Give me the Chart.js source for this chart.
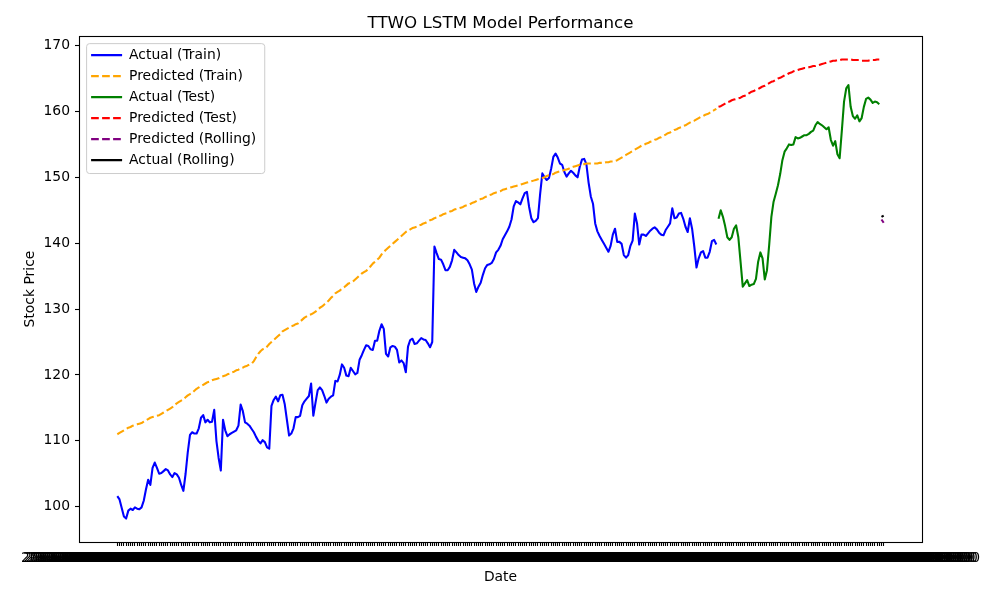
<!DOCTYPE html>
<html>
<head>
<meta charset="utf-8">
<script src="https://cdn.jsdelivr.net/npm/chart.js@4.4.1/dist/chart.umd.min.js"></script>
<style>
html,body{margin:0;padding:0;background:#fff;}
#wrap{width:1000px;height:600px;position:relative;}
</style>
</head>
<body>
<div id="wrap"><canvas id="c" width="1000" height="600"></canvas></div>
<script>
// ---- data ----
const actualTrain = [
101.6,101.1,99.8,98.5,98.2,99.4,99.7,99.5,99.9,99.7,
99.6,99.9,100.9,102.6,104.1,103.3,105.9,106.7,105.9,105.0,
105.1,105.4,105.7,105.5,104.9,104.5,105.1,104.9,104.4,103.3,
102.4,105.0,108.3,110.9,111.3,111.1,111.1,111.9,113.5,113.9,
112.8,113.2,112.8,112.9,114.7,110.0,107.4,105.5,113.2,111.6,
110.7,111.0,111.2,111.4,111.6,112.3,115.5,114.5,112.8,112.6,
112.3,111.8,111.3,110.6,110.0,109.6,110.1,109.8,109.0,108.8,
115.3,116.2,116.7,116.0,116.9,117.0,115.6,113.2,110.8,111.1,
111.9,113.6,113.6,113.8,115.4,116.0,116.4,116.8,118.7,113.8,
115.8,117.7,118.1,117.7,116.8,115.8,116.4,116.7,116.9,119.1,
119.0,120.0,121.6,121.1,119.9,119.8,121.1,120.6,120.1,120.3,
122.3,123.0,123.8,124.5,124.4,123.9,123.8,125.2,125.2,126.7,
127.7,127.0,123.2,122.8,124.2,124.4,124.3,123.8,121.9,122.2,
121.8,120.4,124.3,125.3,125.5,124.7,124.8,125.2,125.6,125.4,
125.3,124.8,124.2,125.0,139.5,138.5,137.6,137.5,136.8,135.9,
135.9,136.4,137.4,139.0,138.6,138.2,137.9,137.8,137.7,137.4,
136.8,136.0,133.9,132.6,133.4,134.0,135.2,136.2,136.7,136.8,
137.0,137.6,138.6,139.0,139.6,140.6,141.2,141.8,142.5,143.6,
145.6,146.4,146.2,145.9,146.8,147.6,147.8,145.5,143.8,143.2,
143.4,143.8,147.5,150.6,150.0,149.6,149.9,151.3,153.1,153.6,
153.0,152.1,151.9,150.8,150.1,150.6,151.0,150.7,150.3,150.0,
151.6,152.7,152.8,152.0,149.2,147.1,146.0,143.0,141.8,141.1,
140.5,139.9,139.3,138.7,139.6,141.3,142.2,140.2,140.2,139.9,
138.2,137.8,138.2,139.6,140.4,144.5,143.0,139.8,141.3,141.3,
141.1,141.5,141.9,142.2,142.4,142.1,141.6,141.3,141.2,142.0,
142.5,143.0,145.3,143.8,143.9,144.5,144.6,143.7,142.5,141.7,
143.8,142.2,139.5,136.3,137.7,138.6,138.8,137.8,137.8,138.7,
140.3,140.5,139.8
];
const predictedTrain = [
111.0,111.2,111.4,111.6,111.8,112.0,112.1,112.3,112.4,112.5,
112.6,112.7,112.9,113.1,113.3,113.5,113.6,113.7,113.8,113.9,
114.1,114.3,114.5,114.7,114.9,115.1,115.4,115.7,115.9,116.1,
116.3,116.6,116.9,117.1,117.3,117.6,117.9,118.1,118.3,118.5,
118.7,118.9,119.0,119.2,119.3,119.4,119.5,119.7,119.8,119.9,
120.1,120.2,120.4,120.5,120.7,120.8,121.0,121.1,121.3,121.4,
121.6,121.7,122.1,122.7,123.2,123.6,123.9,124.0,124.3,124.7,
125.0,125.3,125.6,125.9,126.2,126.6,126.8,127.0,127.2,127.4,
127.5,127.7,127.8,128.1,128.4,128.7,128.9,129.1,129.2,129.4,
129.6,129.9,130.2,130.4,130.7,131.0,131.3,131.7,132.0,132.4,
132.6,132.8,133.1,133.3,133.6,133.9,134.0,134.2,134.5,134.8,
135.1,135.4,135.6,135.8,136.1,136.5,136.9,137.2,137.5,137.8,
138.3,138.7,139.0,139.3,139.6,139.9,140.2,140.5,140.8,141.1,
141.4,141.7,141.9,142.1,142.3,142.4,142.5,142.7,142.8,143.0,
143.1,143.3,143.5,143.6,143.8,143.9,144.1,144.2,144.4,144.5,
144.6,144.8,144.9,145.1,145.2,145.3,145.4,145.5,145.7,145.8,
145.9,146.1,146.2,146.4,146.6,146.7,146.8,147.0,147.1,147.3,
147.4,147.6,147.7,147.8,147.9,148.1,148.2,148.3,148.4,148.5,
148.6,148.7,148.8,148.9,149.0,149.1,149.2,149.3,149.4,149.5,
149.6,149.7,149.8,149.9,150.0,150.2,150.3,150.4,150.5,150.7,
150.8,150.9,151.0,151.1,151.2,151.3,151.5,151.6,151.7,151.8,
151.9,152.0,152.0,152.1,152.1,152.1,152.1,152.1,152.1,152.2,
152.2,152.2,152.3,152.3,152.4,152.4,152.5,152.6,152.8,153.0,
153.2,153.4,153.6,153.8,154.0,154.2,154.4,154.6,154.8,154.9,
155.1,155.2,155.4,155.5,155.7,155.8,156.0,156.1,156.3,156.5,
156.7,156.8,157.0,157.2,157.3,157.5,157.6,157.8,157.9,158.1,
158.3,158.5,158.6,158.8,159.0,159.2,159.3,159.5,159.6,159.8,
160.0,160.2,160.4
];
const actualTest = [
143.7,145.0,144.0,142.6,140.9,140.5,140.9,142.2,142.7,140.9,
137.2,133.4,133.9,134.4,133.5,133.7,133.8,134.6,137.2,138.6,
137.7,134.5,135.9,139.7,144.0,146.3,147.5,148.8,150.5,152.6,
153.9,154.4,155.0,154.9,155.0,156.1,155.9,156.0,156.2,156.4,
156.4,156.6,156.9,157.1,157.9,158.4,158.1,157.9,157.6,157.3,
157.6,155.7,154.8,155.5,153.5,152.9,157.1,161.5,163.5,164.0,
160.7,159.3,158.9,159.4,158.5,159.0,160.7,161.9,162.1,161.8,
161.3,161.5,161.4,161.1
];
const predictedTest = [
160.7,160.8,161.0,161.2,161.4,161.5,161.7,161.8,161.9,162.0,
162.1,162.3,162.4,162.6,162.8,163.0,163.1,163.3,163.4,163.6,
163.8,163.9,164.1,164.3,164.5,164.6,164.8,165.0,165.1,165.3,
165.5,165.6,165.8,165.9,166.1,166.2,166.3,166.4,166.5,166.6,
166.6,166.7,166.8,166.9,166.9,167.0,167.1,167.2,167.3,167.4,
167.5,167.6,167.7,167.7,167.8,167.8,167.9,167.9,167.9,167.9,
167.9,167.8,167.8,167.8,167.8,167.7,167.7,167.7,167.7,167.8,
167.8,167.8,167.9,167.9
];
const predictedRolling = [143.6, 143.1];
const actualRolling = [144.0, 144.2];
const yTicks = [100, 110, 120, 130, 140, 150, 160, 170];
const firstDate = '2022-10-03';

function businessDayLabels(start, n) {
  const out = [];
  const d = new Date(start + 'T12:00:00Z');
  while (out.length < n) {
    const wd = d.getUTCDay();
    if (wd !== 0 && wd !== 6) {
      const m = d.getUTCMonth() + 1;
      const tz = (m >= 4 && m <= 10) ? '-04:00' : '-05:00';
      out.push(d.toISOString().slice(0, 10) + ' 00:00:00' + tz);
    }
    d.setUTCDate(d.getUTCDate() + 1);
  }
  return out;
}
const nTrain = actualTrain.length;
const nTest = actualTest.length;
const dateLabels = businessDayLabels(firstDate, nTrain + nTest + actualRolling.length);

// ---- chart ----
Chart.defaults.font.family = "'DejaVu Sans', sans-serif";
Chart.defaults.color = '#000';
const LW = 2.08;
const DASH = [7.7, 3.3];
const pts = (arr, off) => arr.map((v, i) => ({ x: off + i, y: v }));
const lastIdx = dateLabels.length - 1;
const xMargin = lastIdx * 0.05;

const mplFrame = {
  id: 'mplFrame',
  afterLayout(chart) {
    const lg = chart.legend, ca = chart.chartArea;
    if (lg) {
      lg.left = ca.left + 5;
      lg.top = ca.top + 5;
      lg.right = lg.left + lg.width;
      lg.bottom = ca.bottom;
    }
  },
  beforeDraw(chart) {
    const ctx = chart.ctx;
    ctx.save();
    ctx.fillStyle = '#fff';
    ctx.fillRect(0, 0, chart.width, chart.height);
    const hb = chart.legend && chart.legend.legendHitBoxes;
    if (hb && hb.length) {
      let l = Infinity, t = Infinity, r = -Infinity, b = -Infinity;
      hb.forEach(h => {
        l = Math.min(l, h.left); t = Math.min(t, h.top);
        r = Math.max(r, h.left + h.width); b = Math.max(b, h.top + h.height);
      });
      ctx.beginPath();
      ctx.roundRect(l - 5 + 0.5, t - 5 + 0.5, (r + 8) - (l - 5), (b + 6) - (t - 5), 3);
      ctx.fillStyle = 'rgba(255,255,255,0.8)';
      ctx.fill();
      ctx.strokeStyle = '#cccccc';
      ctx.lineWidth = 1;
      ctx.stroke();
    }
    ctx.restore();
  },
  afterDraw(chart) {
    const { ctx, chartArea: ca } = chart;
    ctx.save();
    ctx.strokeStyle = '#000';
    ctx.lineWidth = 1.1;
    ctx.strokeRect(Math.round(ca.left) + 0.5, Math.round(ca.top) + 0.5,
      Math.round(ca.right - ca.left), Math.round(ca.bottom - ca.top));
    ctx.restore();
  }
};

const common = { pointRadius: 0, borderWidth: LW, fill: false, tension: 0, borderJoinStyle: 'round', borderCapStyle: 'butt' };

new Chart(document.getElementById('c'), {
  type: 'line',
  data: {
    datasets: [
      Object.assign({ label: 'Actual (Train)', data: pts(actualTrain, 0), borderColor: '#0000ff', backgroundColor: '#0000ff', order: 6 }, common),
      Object.assign({ label: 'Predicted (Train)', data: pts(predictedTrain, 0), borderColor: '#ffa500', backgroundColor: '#ffa500', borderDash: DASH, order: 5 }, common),
      Object.assign({ label: 'Actual (Test)', data: pts(actualTest, nTrain), borderColor: '#008000', backgroundColor: '#008000', order: 4 }, common),
      Object.assign({ label: 'Predicted (Test)', data: pts(predictedTest, nTrain), borderColor: '#ff0000', backgroundColor: '#ff0000', borderDash: DASH, order: 3 }, common),
      Object.assign({ label: 'Predicted (Rolling)', data: pts(predictedRolling, nTrain + nTest), borderColor: '#800080', backgroundColor: '#800080', borderDash: DASH, order: 2 }, common),
      Object.assign({ label: 'Actual (Rolling)', data: pts(actualRolling, nTrain + nTest), borderColor: '#000000', backgroundColor: '#000000', order: 1 }, common)
    ]
  },
  options: {
    responsive: false,
    animation: false,
    events: [],
    layout: { padding: { left: 0, right: 78, top: 0, bottom: 0 } },
    plugins: {
      title: {
        display: true, text: 'TTWO LSTM Model Performance', color: '#000', fullSize: false,
        font: { size: 16.7, weight: 'normal' }, padding: { top: 14, bottom: 2 }
      },
      legend: {
        position: 'chartArea', align: 'start',
        labels: {
          usePointStyle: true, pointStyle: 'line', pointStyleWidth: 31,
          font: { size: 13.9 }, color: '#000', padding: 7.1,
          sort: (a, b) => a.datasetIndex - b.datasetIndex,
          generateLabels: chart => {
            const items = Chart.defaults.plugins.legend.labels.generateLabels(chart);
            items.forEach(it => {
              const ds = chart.data.datasets[it.datasetIndex];
              it.lineDash = ds.borderDash || [];
              it.lineWidth = ds.borderWidth;
              it.strokeStyle = ds.borderColor;
              it.pointStyle = 'line';
            });
            return items;
          }
        }
      },
      tooltip: { enabled: false }
    },
    scales: {
      x: {
        type: 'linear',
        min: -xMargin, max: lastIdx + xMargin,
        afterBuildTicks: s => { s.ticks = dateLabels.map((d, i) => ({ value: i })); },
        afterFit: s => { s.height = 58; },
        ticks: {
          autoSkip: false, maxRotation: 0, minRotation: 0, color: '#000',
          font: { size: 13.9 }, padding: 4,
          callback: v => dateLabels[v] !== undefined ? dateLabels[v] : ''
        },
        grid: { drawOnChartArea: false, drawTicks: true, tickLength: 4, tickColor: '#000', tickWidth: 1.1 },
        border: { display: false },
        title: { display: true, text: 'Date', color: '#000', font: { size: 13.9 }, padding: { top: 0, bottom: 14.2 } }
      },
      y: {
        min: 94.64, max: 171.45,
        afterBuildTicks: s => { s.ticks = yTicks.map(v => ({ value: v })); },
        afterFit: s => { s.width = 79; },
        ticks: { color: '#000', font: { size: 13.9 }, padding: 5 },
        grid: { drawOnChartArea: false, drawTicks: true, tickLength: 4, tickColor: '#000', tickWidth: 1.1 },
        border: { display: false },
        title: { display: true, text: 'Stock Price', color: '#000', font: { size: 13.9 }, padding: { top: 22, bottom: 0 } }
      }
    }
  },
  plugins: [mplFrame]
});
</script>
</body>
</html>
